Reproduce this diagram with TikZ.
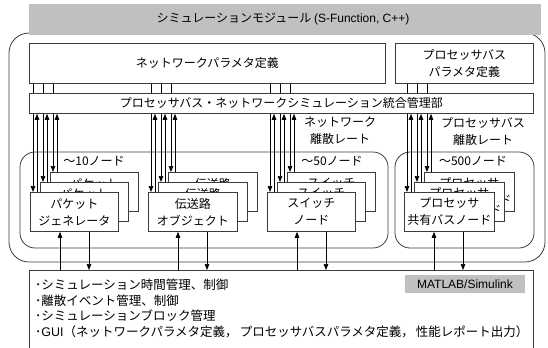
\documentclass[tikz,border=0pt]{standalone}
\usepackage{fontspec}
\setmainfont{Noto Sans CJK JP}
\newfontfamily\lat{Liberation Sans}
\usetikzlibrary{arrows.meta,calc}
\definecolor{titlegray}{RGB}{192,192,192}
\definecolor{linegray}{RGB}{60,60,60}
\tikzset{
  box/.style={draw=linegray, line width=0.8bp, fill=white, inner sep=0pt, align=center},
  unit/.style={box, minimum height=39bp, anchor=north west},
  conn/.style={draw=black, line width=0.7bp},
  tip/.style={-{Triangle[length=6bp,width=4.5bp]}},
  grp/.style={draw=linegray, line width=0.8bp, rounded corners=15bp},
  lbl/.style={inner sep=0pt, align=center},
  ctltext/.style={lbl, anchor=west, font=\fontsize{12.5bp}{17bp}\selectfont},
}
\begin{document}
\begin{tikzpicture}[x=1bp, y=-1bp, font=\fontsize{12bp}{17bp}\selectfont]
\useasboundingbox (0,0) rectangle (548,347);
% outer frame and title
\draw[grp, rounded corners=20bp] (9,33) rectangle (545,262);
\node[fill=titlegray, minimum width=512bp, minimum height=31bp, inner sep=0pt, anchor=north west] (title) at (29,4) {};
\node[lbl] (titletext) at (283,19) {シミュレーションモジュール {\lat (S-Function, C++)}};
% parameter boxes and manager
\node[box, minimum width=356bp, minimum height=40bp, anchor=north west] (np) at (29,43) {ネットワークパラメタ定義};
\node[box, minimum width=138bp, minimum height=40bp, anchor=north west] (bp) at (395,43) {プロセッサバス\\パラメタ定義};
\node[box, minimum width=504bp, minimum height=20bp, anchor=north west] (mgr) at (29,93) {プロセッサバス・ネットワークシミュレーション統合管理部};
% group frames
\draw[grp] (20,152) rectangle (388,248);
\draw[grp] (395,152) rectangle (534,248);
% labels
\node[lbl] (lnr) at (340,131) {ネットワーク\\離散レート};
\node[lbl] (lbr) at (483,131) {プロセッサバス\\離散レート};
\node[lbl] (n10) at (94,161) {〜10ノード};
\node[lbl] (n50) at (332,161) {〜50ノード};
\node[lbl] (n500) at (473,161) {〜500ノード};
% bottom control box
\node[box, minimum width=504bp, minimum height=110bp, anchor=north west] (ctl) at (29,270) {};
\node[ctltext] (c1) at (35,285) {･シミュレーション時間管理、制御};
\node[ctltext] (c2) at (35,300.5) {･離散イベント管理、制御};
\node[ctltext] (c3) at (35,316) {･シミュレーションブロック管理};
\node[ctltext] (c4) at (35,331.5) {･{\lat GUI}（ネットワークパラメタ定義，\,プロセッサバスパラメタ定義，\,性能レポート出力）};
\node[fill=titlegray, minimum width=120bp, minimum height=18bp, inner sep=0pt] (ml) at (465,284) {\lat MATLAB/Simulink};
% stacked units
\foreach \g/\L/\W/\txt in {p/30/88/{パケット\\ジェネレータ},t/148/89/{伝送路\\オブジェクト},s/267/88/{スイッチ\\ノード},b/404/90/{プロセッサ\\共有バスノード}}{
  \node[unit, minimum width=\W bp] (\g3) at (\L+20,172) {\txt};
  \node[unit, minimum width=\W bp] (\g2) at (\L+10,182) {\txt};
  \node[unit, minimum width=\W bp] (\g1) at (\L,192) {\txt};
}
% connectors
\foreach \g/\pb in {p/np,t/np,s/np,b/bp}{
  \foreach \k in {1,2,3}{
    \coordinate (d\g\k) at ([xshift=3bp]\g\k.north west);
    \coordinate (u\g\k) at ([xshift=7bp]\g\k.north west);
    \draw[conn, tip] (mgr.south -| d\g\k) -- (d\g\k);
    \draw[conn, tip] (u\g\k) -- (mgr.south -| u\g\k);
    \draw[conn] (\pb.south -| d\g\k) -- (mgr.north -| d\g\k);
  }
  \coordinate (bu\g) at ([xshift=30bp]\g1.south west);
  \coordinate (bd\g) at ([xshift=59bp]\g1.south west);
  \draw[conn, tip] (ctl.north -| bu\g) -- (bu\g);
  \draw[conn, tip] (bd\g) -- (ctl.north -| bd\g);
}
\end{tikzpicture}
\end{document}
